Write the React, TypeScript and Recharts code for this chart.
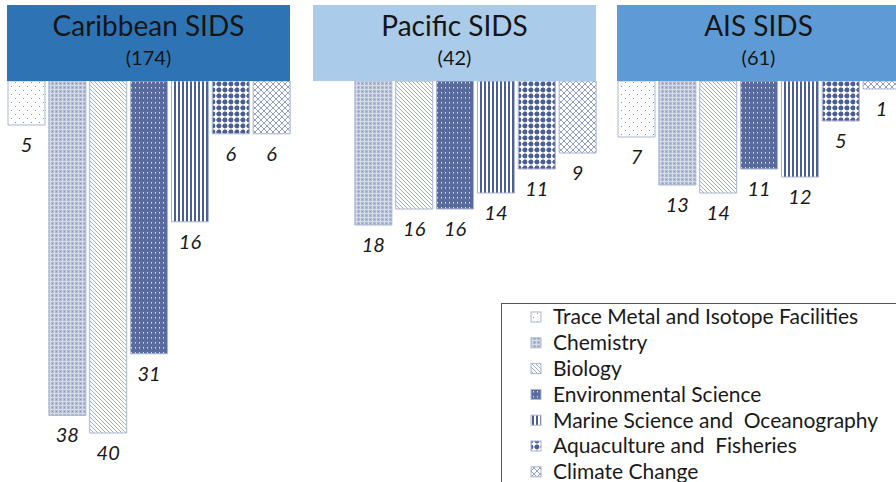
import React from "react";
import { BarChart, Bar, XAxis, YAxis, Cell, LabelList } from "recharts";

const fields = [
  "Trace Metal and Isotope Facilities",
  "Chemistry",
  "Biology",
  "Environmental Science",
  "Marine Science and  Oceanography",
  "Aquaculture and  Fisheries",
  "Climate Change",
];
const regions = ["Caribbean SIDS", "Pacific SIDS", "AIS SIDS"];
const totals = [174, 42, 61];
const caribbean = [5, 38, 40, 31, 16, 6, 6];
const pacific = [0, 18, 16, 16, 14, 11, 9];
const ais = [7, 13, 14, 11, 12, 5, 1];

const headerColors = ["#2E74B5", "#ABCBEB", "#5E9BD6"];
const panelLeft = [7, 313, 617];
const pxPerUnit = [8.8, 8.0, 8.0];
const DOMAIN_MAX = 50;
const DARK = "#4B5E92";
const FONT = "Lato, 'Open Sans', sans-serif";

function Patterns({ p }: { p: string }) {
  return (
    <defs>
      <pattern id={`${p}0`} width="8" height="8" patternUnits="userSpaceOnUse">
        <rect width="8" height="8" fill="#ffffff" />
        <rect x="1" y="1" width="1" height="1" fill="#7F8FB8" />
        <rect x="5" y="5" width="1" height="1" fill="#7F8FB8" />
      </pattern>
      <pattern id={`${p}1`} width="4" height="4" patternUnits="userSpaceOnUse">
        <rect width="4" height="4" fill="#B0BAD3" />
        <rect x="0" y="0" width="4" height="1" fill="#D6DBE8" />
        <rect x="0" y="0" width="1" height="4" fill="#D6DBE8" />
        <rect x="2" y="2" width="1" height="1" fill="#8897BB" />
      </pattern>
      <pattern id={`${p}2`} width="4" height="4" patternUnits="userSpaceOnUse">
        <rect width="4" height="4" fill="#ffffff" />
        <path d="M-1,-1 L5,5 M-1,3 L1,5 M3,-1 L5,1" stroke="#97A4C6" strokeWidth="0.9" />
      </pattern>
      <pattern id={`${p}3`} width="4" height="5" patternUnits="userSpaceOnUse">
        <rect width="4" height="5" fill="#586B9C" />
        <rect x="1" y="1" width="1" height="1.5" fill="#DDE2EE" />
      </pattern>
      <pattern id={`${p}4`} width="4" height="4" patternUnits="userSpaceOnUse">
        <rect width="4" height="4" fill="#ffffff" />
        <rect x="0" y="0" width="2" height="4" fill={DARK} />
      </pattern>
      <pattern id={`${p}5`} width="6" height="6" patternUnits="userSpaceOnUse">
        <rect width="6" height="6" fill="#ffffff" />
        <circle cx="3" cy="3" r="2.4" fill={DARK} />
        <rect x="0" y="2.5" width="1" height="1" fill={DARK} />
        <rect x="2.5" y="0" width="1" height="1" fill="#8E9CC0" />
      </pattern>
      <pattern id={`${p}6`} width="6" height="6" patternUnits="userSpaceOnUse">
        <rect width="6" height="6" fill="#ffffff" />
        <path d="M0,0 L6,6 M6,0 L0,6" stroke="#8494BC" strokeWidth="0.9" />
      </pattern>
    </defs>
  );
}

const valueLabel = (props: any) => {
  const { x, y, width, height, value } = props;
  const bottom = Math.max(Number(y), Number(y) + Number(height));
  return (
    <text
      x={Number(x) + Number(width) / 2}
      y={bottom + 27}
      textAnchor="middle"
      fontStyle="italic"
      fontSize={20}
      fontFamily={FONT}
      fill="#1a1a1a"
    >
      {value}
    </text>
  );
};

function Panel({ idx, values }: { idx: number; values: number[] }) {
  const data = fields.map((f, i) => ({ field: f, value: values[i] }));
  const p = `pat${idx}_`;
  return (
    <div style={{ position: "absolute", left: panelLeft[idx] - 1.5, top: 81 }}>
      <BarChart
        width={286}
        height={DOMAIN_MAX * pxPerUnit[idx]}
        data={data}
        margin={{ top: 0, right: 0, bottom: 0, left: 0 }}
        barSize={37}
      >
        <Patterns p={p} />
        <XAxis dataKey="field" type="category" hide />
        <YAxis type="number" domain={[0, DOMAIN_MAX]} reversed hide />
        <Bar dataKey="value" isAnimationActive={false} stroke="#A9B5D1" strokeWidth={1}>
          {data.map((d, i) => (
            <Cell key={d.field} fill={`url(#${p}${i})`} />
          ))}
          <LabelList dataKey="value" content={valueLabel} />
        </Bar>
      </BarChart>
    </div>
  );
}

export default function App() {
  return (
    <div
      style={{
        position: "absolute",
        left: 0,
        top: 0,
        width: 896,
        height: 482,
        overflow: "hidden",
        background: "#ffffff",
      }}
    >
      <Panel idx={0} values={caribbean} />
      <Panel idx={1} values={pacific} />
      <Panel idx={2} values={ais} />
      <svg
        width={896}
        height={482}
        style={{ position: "absolute", left: 0, top: 0, pointerEvents: "none" }}
      >
        <Patterns p="lg_" />
        {regions.map((r, i) => (
          <g key={r}>
            <rect x={panelLeft[i]} y={5} width={283} height={76} fill={headerColors[i]} />
            <text
              x={panelLeft[i] + 141.5}
              y={36}
              textAnchor="middle"
              fontSize={28}
              fontFamily={FONT}
              fill="#151515"
            >
              {r}
            </text>
            <text
              x={panelLeft[i] + 141.5}
              y={65}
              textAnchor="middle"
              fontSize={20}
              fontFamily={FONT}
              fill="#151515"
            >
              ({totals[i]})
            </text>
          </g>
        ))}
        <rect x={501.5} y={303.5} width={400} height={200} fill="none" stroke="#555555" strokeWidth={1} />
        {fields.map((f, i) => {
          const cy = 317 + i * 25.8;
          return (
            <g key={f}>
              <rect
                x={531}
                y={cy - 5}
                width={10}
                height={10}
                fill={`url(#lg_${i})`}
                stroke="#A9B5D1"
                strokeWidth={1}
              />
              <text
                x={553}
                y={cy + 7.3}
                fontSize={21}
                fontFamily={FONT}
                fill="#1a1a1a"
                style={{ whiteSpace: "pre" }}
              >
                {f}
              </text>
            </g>
          );
        })}
      </svg>
    </div>
  );
}
